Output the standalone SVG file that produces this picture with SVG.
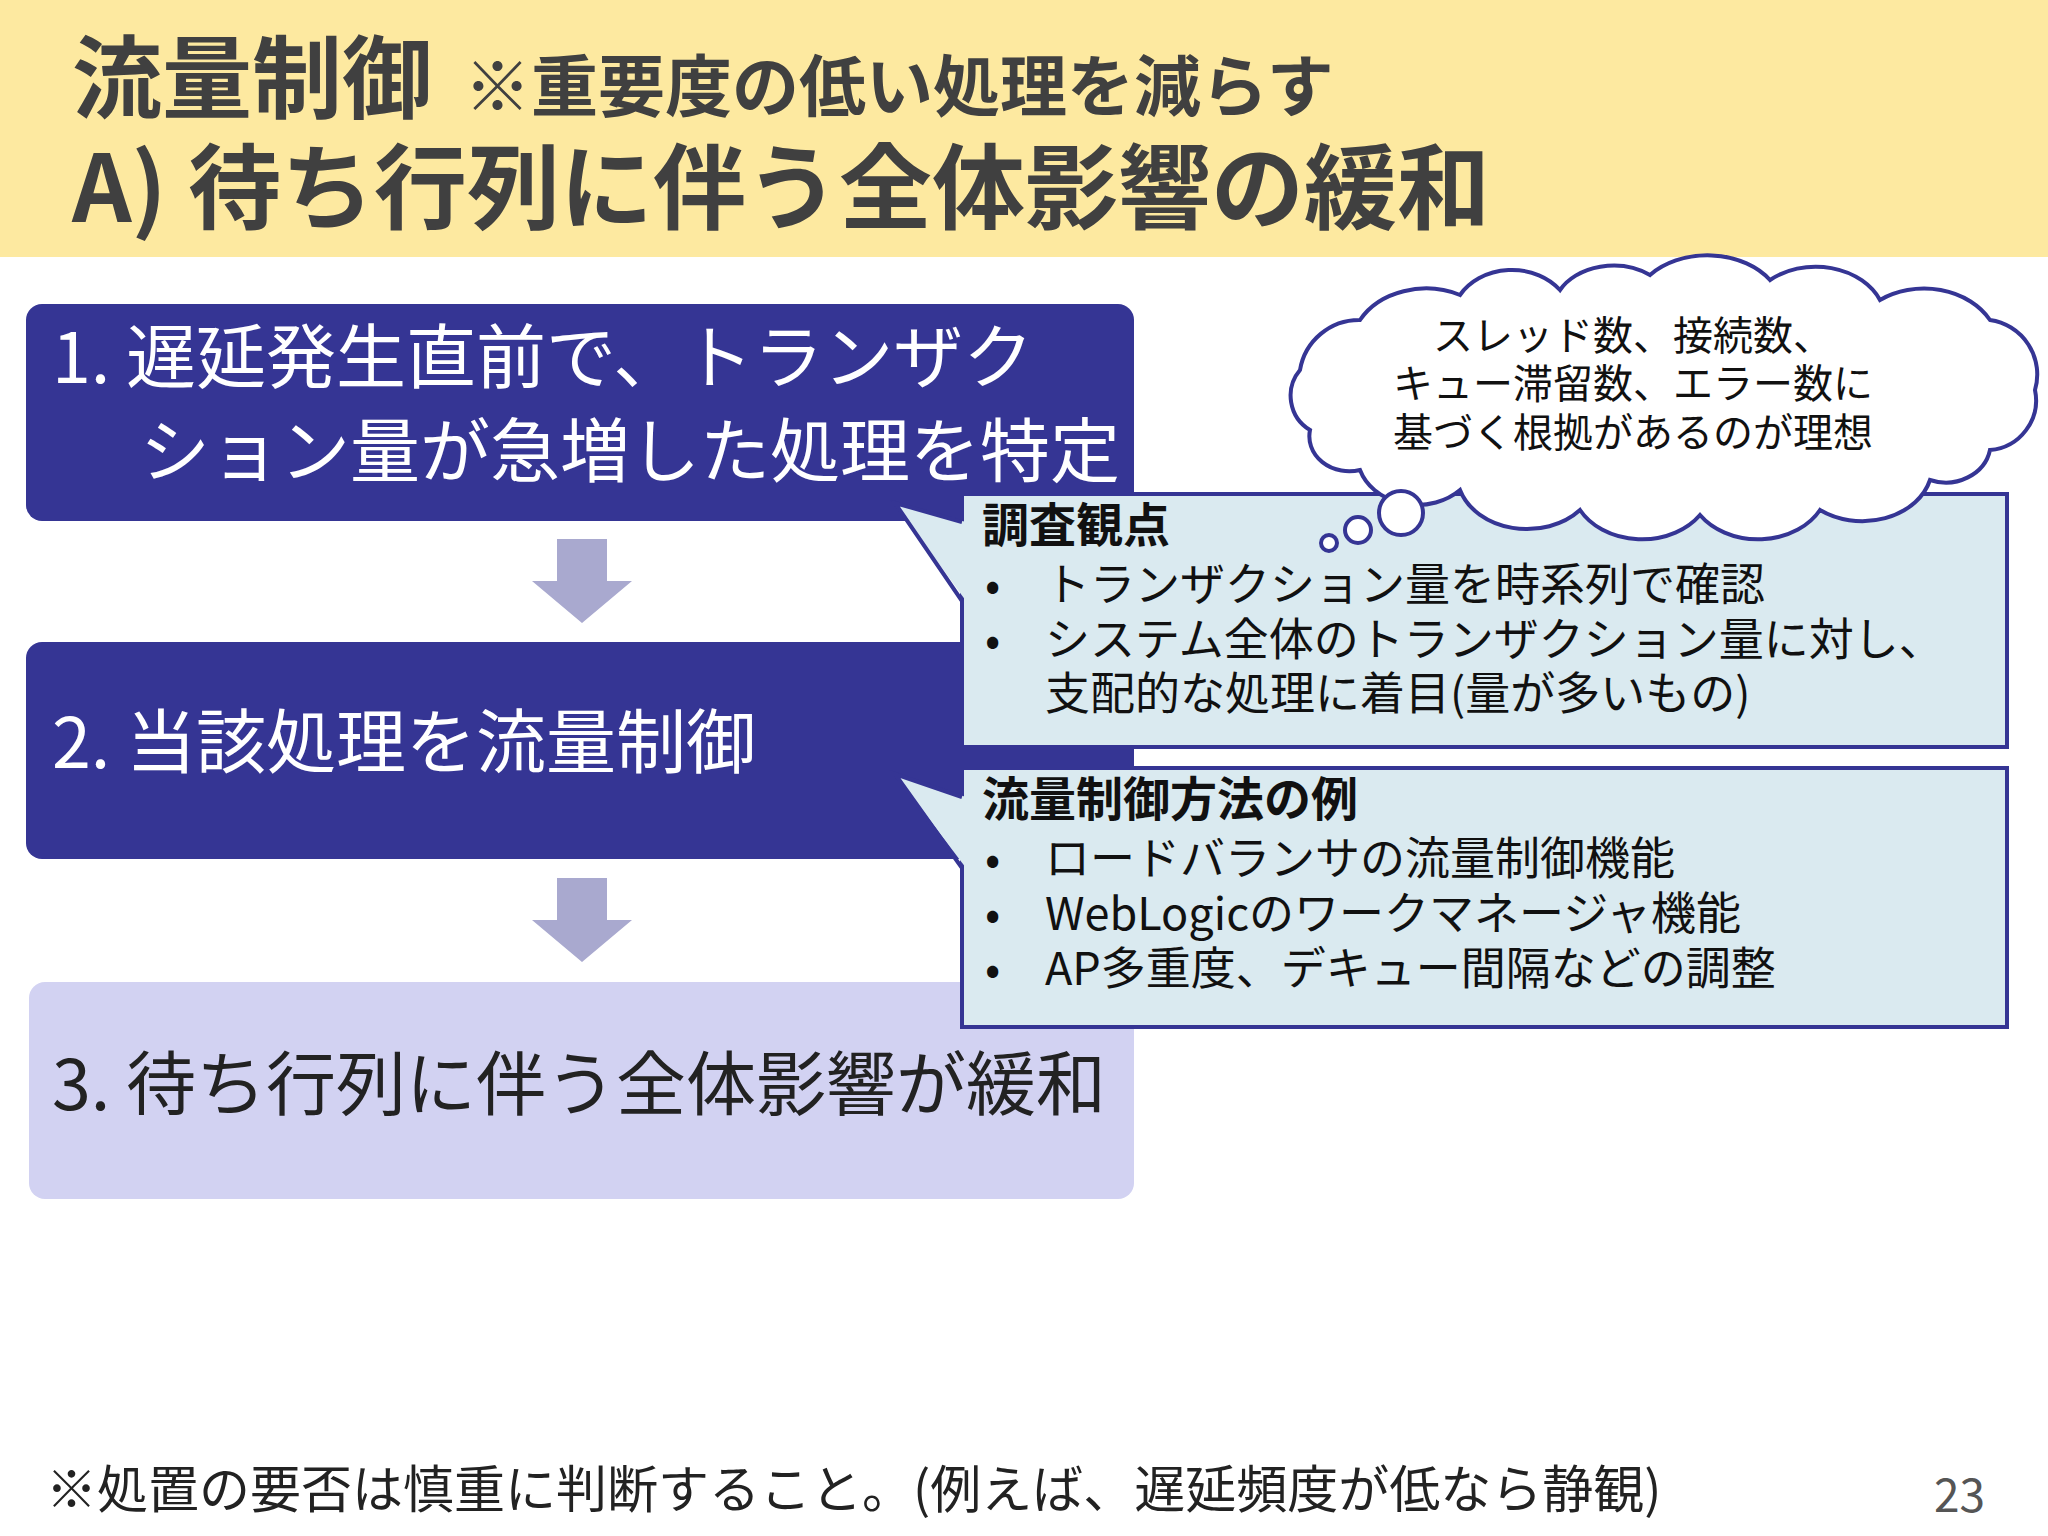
<svg xmlns="http://www.w3.org/2000/svg" width="2048" height="1536" viewBox="0 0 2048 1536">
<style>
text{font-family:"Noto Sans CJK JP","Noto Sans",sans-serif}
.h{fill:#404040;font-weight:bold}
.bt{fill:#fff;font-size:70px}
.co{fill:#DAEAF0;stroke:#353594;stroke-width:4}
.ct{font-size:45px;fill:#111}
.cb{font-size:47px;font-weight:bold;fill:#111}
.ar{fill:#A9A9CF}
</style>
<rect width="2048" height="1536" fill="#fff"/>
<g id="header">
<rect width="2048" height="257" fill="#FDE9A0"/>
<text x="72" y="111" class="h" font-size="90">流量制御</text>
<text x="464" y="111" class="h" font-size="67">※重要度の低い処理を減らす</text>
<text x="72" y="222" class="h" font-size="93">A) 待ち行列に伴う全体影響の緩和</text>
</g>
<g id="box1"><rect x="26" y="304" width="1108" height="217" rx="16" fill="#353594"/>
<text x="52" y="383" class="bt">1. 遅延発生直前で、トランザク</text>
<text x="140" y="477" class="bt">ション量が急増した処理を特定</text></g>
<g id="box2"><rect x="26" y="642" width="1108" height="217" rx="16" fill="#353594"/>
<text x="52" y="768" class="bt">2. 当該処理を流量制御</text></g>
<g id="box3"><rect x="29" y="982" width="1105" height="217" rx="16" fill="#D2D2F2"/>
<text x="52" y="1110" class="bt" style="fill:#222">3. 待ち行列に伴う全体影響が緩和</text></g>
<g id="connectors">
<polygon class="ar" points="557,539 607,539 607,581 632,581 582,623 532,581 557,581"/>
<polygon class="ar" points="557,878 607,878 607,920 632,920 582,962 532,920 557,920"/>
</g>
<g id="callout1">
<rect class="co" x="962" y="494" width="1045" height="253"/>
<polygon points="895,503 966,522 966,601" fill="#DAEAF0"/>
<polyline points="962,522 895,503 962,601" fill="none" stroke="#353594" stroke-width="4"/>
<text x="982" y="542" class="cb">調査観点</text>
<text x="985" y="601" class="ct">•</text><text x="1045" y="601" class="ct">トランザクション量を時系列で確認</text>
<text x="985" y="656" class="ct">•</text><text x="1045" y="656" class="ct">システム全体のトランザクション量に対し、</text>
<text x="1045" y="710" class="ct">支配的な処理に着目(量が多いもの)</text>
</g>
<g id="callout2">
<rect class="co" x="962" y="768" width="1045" height="259"/>
<polygon points="895,774 966,797 966,868" fill="#DAEAF0"/>
<polyline points="962,797 895,774 962,868" fill="none" stroke="#353594" stroke-width="4"/>
<text x="982" y="816" class="cb">流量制御方法の例</text>
<text x="985" y="875" class="ct">•</text><text x="1045" y="875" class="ct">ロードバランサの流量制御機能</text>
<text x="985" y="930" class="ct">•</text><text x="1045" y="930" class="ct">WebLogicのワークマネージャ機能</text>
<text x="985" y="985" class="ct">•</text><text x="1045" y="985" class="ct">AP多重度、デキュー間隔などの調整</text>
</g>
<g id="cloud" fill="#fff" stroke="#353594" stroke-width="4">
<path d="M1310,430 A40,40 0 0 1 1300,370 A60,60 0 0 1 1360,320 A75,60 0 0 1 1460,295 A60,50 0 0 1 1560,290 A60,45 0 0 1 1650,275 A75,55 0 0 1 1770,280 A70,55 0 0 1 1880,300 A75,60 0 0 1 1990,320 A55,55 0 0 1 2035,390 A50,50 0 0 1 1990,450 A45,40 0 0 1 1930,480 A70,55 0 0 1 1820,510 A70,55 0 0 1 1700,515 A70,55 0 0 1 1580,510 A70,55 0 0 1 1460,490 A60,50 0 0 1 1360,470 A40,35 0 0 1 1310,430 Z"/>
<circle cx="1401" cy="513" r="22"/><circle cx="1358" cy="530" r="13"/><circle cx="1329" cy="543" r="8"/>
<g fill="#111" stroke="none" font-size="40" text-anchor="middle">
<text x="1633" y="350">スレッド数、接続数、</text>
<text x="1633" y="398">キュー滞留数、エラー数に</text>
<text x="1633" y="447">基づく根拠があるのが理想</text></g>
</g>
<g id="footer">
<text x="46" y="1508" font-size="51" fill="#222">※処置の要否は慎重に判断すること。(例えば、遅延頻度が低なら静観)</text>
<text x="1985" y="1512" font-size="46" fill="#555" text-anchor="end">23</text>
</g>
</svg>
